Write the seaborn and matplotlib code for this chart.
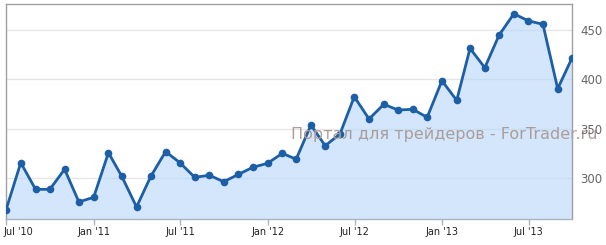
import matplotlib
matplotlib.use("Agg")
import matplotlib.pyplot as plt
import matplotlib.transforms as mtransforms
import seaborn as sns
import pandas as pd

months = pd.date_range("2010-06-30", periods=40, freq="ME")
values = [267.6, 315.5, 288.5, 288.5, 308.8, 275.7, 280.4, 325.6, 301.7, 270.6,
          301.7, 326.7, 315.5, 300.7, 302.7, 296.2, 303.7, 310.8, 314.9, 325.0,
          319.0, 353.7, 332.7, 344.6, 382.4, 359.8, 374.7, 368.9, 369.6, 361.5,
          398.6, 378.7, 431.4, 411.8, 444.9, 466.5, 459.4, 455.8, 390.5, 421.6]
y_ticks = [300, 350, 400, 450]
x_tick_dates = pd.to_datetime(["2010-07-01", "2011-01-01", "2011-07-01", "2012-01-01",
                               "2012-07-01", "2013-01-01", "2013-07-01"])
x_tick_labels = ["Jul '10", "Jan '11", "Jul '11", "Jan '12", "Jul '12", "Jan '13", "Jul '13"]
watermark = "Портал для трейдеров - ForTrader.ru"

df = pd.DataFrame({"date": months, "value": values})

sns.set_theme(style="white")
plt.rcParams['font.family'] = ['DejaVu Sans']

fig = plt.figure(figsize=(6.06, 2.45), dpi=100)
ax = fig.add_axes([6/606, 26/245, 566/606, 215/245])

line_color = "#1c5fa6"
ax.fill_between(df["date"], df["value"], 0, color="#d3e6fc", zorder=1)
grid_on_fill = []
for yt in y_ticks:
    ax.axhline(yt, color="#e6e6e6", linewidth=1, zorder=0.5)
    grid_on_fill.append(ax.axhline(yt, color="#c8dcf2", linewidth=1, zorder=1.5))
sns.lineplot(data=df, x="date", y="value", ax=ax, color=line_color, linewidth=2,
             marker="o", markersize=5.5, markeredgewidth=0, zorder=3)

fill = ax.collections[0]
for ln in grid_on_fill:
    ln.set_clip_path(fill.get_paths()[0], fill.get_transform())

ax.set_xlim(months[0], months[-1])
ax.set_ylim(258.4, 476.4)
ax.set_xlabel("")
ax.set_ylabel("")
ax.grid(False)

ax.set_yticks(y_ticks)
ax.yaxis.tick_right()
ax.yaxis.set_zorder(6)
ax.tick_params(axis="y", length=0, pad=6, labelsize=8.5, labelcolor="#666666")

ax.set_xticks(x_tick_dates)
ax.set_xticklabels(x_tick_labels)
ax.tick_params(axis="x", length=4, width=1, color="#aab4c0", pad=2, labelsize=7, labelcolor="#222222", bottom=True)
first = ax.get_xticklabels()[0]
first.set_horizontalalignment("left")
first.set_transform(first.get_transform() + mtransforms.ScaledTranslation(-3/100, 0, fig.dpi_scale_trans))

for side in ["top", "left", "right"]:
    ax.spines[side].set_visible(True)
    ax.spines[side].set_color("#a0a0a0")
    ax.spines[side].set_linewidth(1)
ax.spines["bottom"].set_color("#aab4c0")
ax.spines["bottom"].set_linewidth(1)

ax.text(444/606, (245-134.5)/245, watermark, transform=fig.transFigure, fontsize=11.5,
        color="#ab9d99", ha="center", va="center", zorder=4, clip_on=False)

fig.savefig("out.png", dpi=100)
